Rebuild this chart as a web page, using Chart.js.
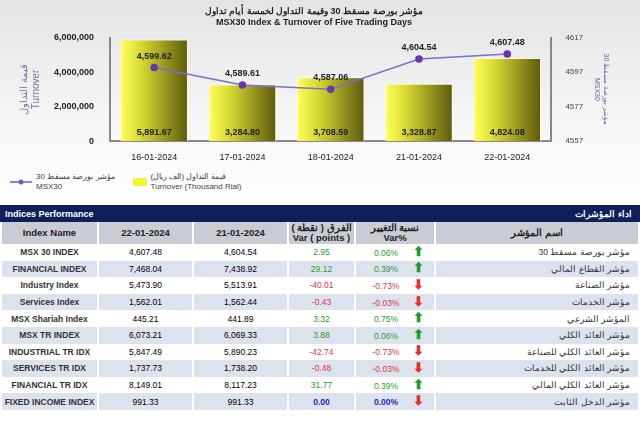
<!DOCTYPE html>
<html><head><meta charset="utf-8">
<script src="https://cdn.jsdelivr.net/npm/chart.js@4/dist/chart.umd.min.js"></script>
<style>
body{margin:0;width:640px;height:422px;overflow:hidden;font-family:Arial,"Liberation Sans",sans-serif;background:#fff;}
#top{position:relative;width:640px;height:205px;background:linear-gradient(#e4e4e4,#f6f6f6 60%,#fff);}
#wrap{position:absolute;left:0;top:0;width:640px;height:166px;}
#legend{position:absolute;left:10px;top:172px;font-size:8px;color:#444;display:flex;gap:18px;}
#legend .it{display:flex;align-items:center;gap:4px;line-height:10px;}
#navy{background:#0f1f5a;color:#fff;font-weight:bold;height:17px;font-size:9px;display:flex;justify-content:space-between;align-items:center;padding:0 8px 0 5px;}
table{border-collapse:separate;border-spacing:2px 0;width:640px;font-size:8.5px;table-layout:fixed;}
td,th{text-align:center;height:16.6px;padding:0;line-height:10px;overflow:hidden;white-space:nowrap;}
.hd th{background:#c9ccd3;color:#222;height:22px;font-size:9.5px;}
tr.a td{background:#fff;} tr.b td{background:#dde2ef;}
td.nm{font-weight:bold;color:#333;} td.ar{text-align:right;padding-right:8px;color:#333;}
.g{color:#2a9a2a}.r{color:#e0354a}.z{color:#1b2ab5;font-weight:bold}
.up{color:#1e9a2a;font-size:13px;font-weight:bold}.dn{color:#e03030;font-size:13px;font-weight:bold}
</style></head><body>
<div id="top">
<div id="wrap"><canvas id="c"></canvas></div>
<div id="legend">
 <div class="it"><svg width="22" height="8"><line x1="0" y1="4" x2="22" y2="4" stroke="#6b5fbf" stroke-width="1.5"/><circle cx="11" cy="4" r="2.5" fill="#6b5fbf"/></svg><div>مؤشر بورصة مسقط 30<br>MSX30</div></div>
 <div class="it"><div style="width:14px;height:8px;background:#f3f33c"></div><div>قيمة التداول (الف ريال)<br>Turnover (Thousand Rial)</div></div>
</div>
</div>
<div id="navy"><span>Indices Performance</span><span>اداء المؤشرات</span></div>
<table id="t"></table>
<script>
var days = ["16-01-2024","17-01-2024","18-01-2024","21-01-2024","22-01-2024"];
var turnover = [5891.67, 3284.80, 3708.59, 3328.87, 4824.08]; // thousand rial
var msx30 = [4599.62, 4589.61, 4587.06, 4604.54, 4607.48];
var rightTicks = [4557, 4577, 4597, 4617];

var namesEn = ["MSX 30 INDEX","FINANCIAL INDEX","Industry Index","Services Index","MSX Shariah Index","MSX TR INDEX","INDUSTRIAL TR IDX","SERVICES TR IDX","FINANCIAL TR IDX","FIXED INCOME INDEX"];
var namesAr = ["مؤشر بورصة مسقط 30","مؤشر القطاع المالي","مؤشر الصناعة","مؤشر الخدمات","المؤشر الشرعي","مؤشر العائد الكلي","مؤشر العائد الكلي للصناعة","مؤشر العائد الكلي للخدمات","مؤشر العائد الكلي المالي","مؤشر الدخل الثابت"];
var cur = ["4,607.48","7,468.04","5,473.90","1,562.01","445.21","6,073.21","5,847.49","1,737.73","8,149.01","991.33"];
var prev = ["4,604.54","7,438.92","5,513.91","1,562.44","441.89","6,069.33","5,890.23","1,738.20","8,117.23","991.33"];
var varPts = [2.95, 29.12, -40.01, -0.43, 3.32, 3.88, -42.74, -0.48, 31.77, 0.00];
var varPct = ["0.06%","0.39%","-0.73%","-0.03%","0.75%","0.06%","-0.73%","-0.03%","0.39%","0.00%"];
var arrowUp = [1,1,0,0,1,1,0,0,1,0];

// table
var h = '<colgroup><col style="width:95px"><col style="width:93px"><col style="width:93px"><col style="width:65px"><col style="width:78px"><col></colgroup>';
h += '<tr class="hd"><th>Index Name</th><th>22-01-2024</th><th>21-01-2024</th><th>الفرق ( نقطة )<br>Var ( points )</th><th>نسبة التغيير<br>Var%</th><th>اسم المؤشر</th></tr>';
for (var i = 0; i < namesEn.length; i++) {
  var cls = varPts[i] > 0 ? "g" : (varPts[i] < 0 ? "r" : "z");
  var arrow = arrowUp[i] ? '<span class="up">⬆</span>' : '<span class="dn">⬇</span>';
  h += '<tr class="' + (i % 2 ? "b" : "a") + '"><td class="nm">' + namesEn[i] + '</td><td>' + cur[i] + '</td><td>' + prev[i] +
    '</td><td class="' + cls + '">' + varPts[i].toFixed(2) + '</td><td><span class="' + cls + '" style="display:inline-block;width:40px">' + varPct[i] +
    '</span> &nbsp; ' + arrow + '</td><td class="ar">' + namesAr[i] + '</td></tr>';
}
document.getElementById("t").innerHTML = h;

// value labels plugin
var labels = {
  id: "labels",
  afterDatasetsDraw: function(chart) {
    var ctx = chart.ctx;
    ctx.save();
    ctx.font = "bold 9px Arial";
    ctx.fillStyle = "#222";
    ctx.textAlign = "center";
    chart.getDatasetMeta(1).data.forEach(function(b, i) {
      ctx.fillText(turnover[i].toLocaleString("en-US", {minimumFractionDigits: 2}), b.x, chart.scales.y.bottom - 6);
    });
    chart.getDatasetMeta(0).data.forEach(function(p, i) {
      ctx.fillText(msx30[i].toLocaleString("en-US", {minimumFractionDigits: 2}), p.x, p.y - 9);
    });
    ctx.restore();
  }
};

new Chart(document.getElementById("c"), {
  data: {
    labels: days,
    datasets: [
      { type: "line", label: "MSX30", data: msx30, yAxisID: "y1", borderColor: "#7b6fd0", borderWidth: 1.5,
        pointBackgroundColor: "#7b2fa8", pointBorderColor: "#5a3ab5", pointRadius: 3, pointBorderWidth: 1.5, order: 0 },
      { type: "bar", label: "Turnover", data: turnover.map(function(v) { return v * 1000; }), yAxisID: "y",
        categoryPercentage: 0.9, barPercentage: 0.85, borderColor: "#fffbe0", borderWidth: 1, order: 1,
        backgroundColor: function(c) {
          var ch = c.chart, a = ch.chartArea;
          if (!a) return "#e0e040";
          var x = ch.scales.x.getPixelForValue(c.dataIndex), w = (a.right - a.left) / days.length * 0.76;
          var g = ch.ctx.createLinearGradient(x - w / 2, 0, x + w / 2, 0);
          g.addColorStop(0, "#ffff5a"); g.addColorStop(0.3, "#dada34"); g.addColorStop(1, "#5e5a0c");
          return g;
        } }
    ]
  },
  options: {
    responsive: true, maintainAspectRatio: false, animation: false,
    layout: { padding: { left: 14, right: 26, top: 0 } },
    plugins: {
      legend: { display: false }, tooltip: { enabled: false },
      title: { display: true, text: ["مؤشر بورصة مسقط 30 وقيمة التداول لخمسة أيام تداول", "MSX30 Index & Turnover of Five Trading Days"],
        color: "#222", font: { size: 9, weight: "bold", family: "Arial" }, padding: { top: 6, bottom: 10 } }
    },
    scales: {
      x: { grid: { display: false }, border: { color: "#888", width: 2 }, ticks: { color: "#222", font: { size: 9 } } },
      y: { min: 0, max: 6000000, ticks: { stepSize: 2000000, color: "#222", font: { size: 9, weight: "bold" }, padding: 8,
             callback: function(v) { return v.toLocaleString("en-US"); } },
           grid: { display: false }, border: { color: "#888", width: 2 },
           title: { display: true, text: ["قيمة التداول", "Turnover"], color: "#7a74a8", font: { size: 10 } } },
      y1: { position: "right", min: 4557, max: 4617, afterBuildTicks: function(s) { s.ticks = rightTicks.map(function(v) { return { value: v }; }); },
            ticks: { color: "#444", font: { size: 8 }, padding: 6, callback: function(v) { return String(v); } },
            grid: { display: false }, border: { color: "#888", width: 2 },
            title: { display: true, text: ["مؤشر بورصة مسقط 30", "MSX30"], color: "#6a5fb0", font: { size: 7 } } }
    }
  },
  plugins: [labels]
});
</script>
</body></html>
